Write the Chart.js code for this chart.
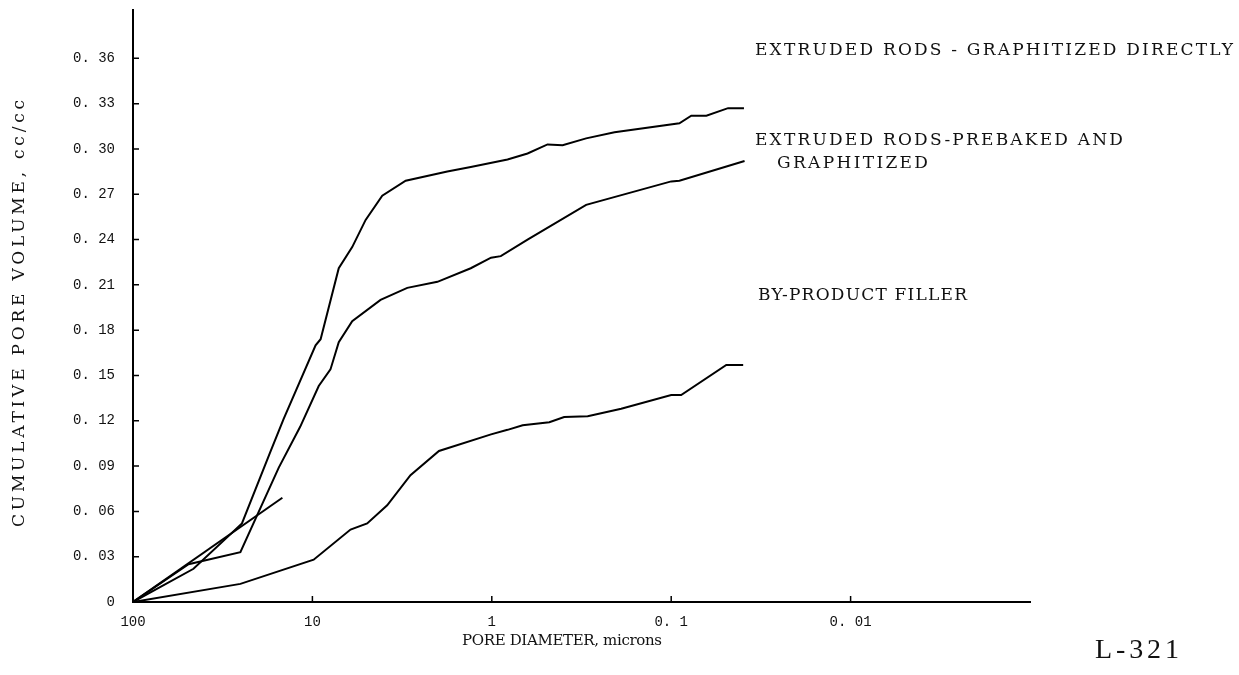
<!DOCTYPE html>
<html>
<head>
<meta charset="utf-8">
<script src="https://cdn.jsdelivr.net/npm/chart.js@4"></script>
<style>
  html, body { margin: 0; padding: 0; background: #fff; }
  canvas { display: block; }
</style>
</head>
<body>
<canvas id="chart" width="1239" height="675"></canvas>
<script>
// Pore diameter (microns) and cumulative pore volume (cc/cc)
const directDiam = [100, 46, 24.7, 17.2, 14.5, 9.6, 9.0, 7.13, 6.0, 5.05, 4.08, 3.02, 1.77, 1.31, 0.817, 0.632, 0.489, 0.403, 0.298, 0.207, 0.09, 0.0773, 0.0637, 0.0482, 0.0393];
const directVol = [0, 0.022, 0.052, 0.099, 0.121, 0.170, 0.174, 0.221, 0.235, 0.253, 0.269, 0.279, 0.285, 0.288, 0.293, 0.297, 0.303, 0.3025, 0.307, 0.311, 0.317, 0.322, 0.322, 0.327, 0.327];

const prebakedDiam = [100, 49, 25.2, 15.4, 11.7, 9.22, 7.93, 7.13, 6.0, 4.17, 2.96, 2.01, 1.31, 1.01, 0.891, 0.632, 0.298, 0.1, 0.09, 0.039];
const prebakedVol = [0, 0.025, 0.033, 0.089, 0.116, 0.143, 0.154, 0.172, 0.186, 0.200, 0.208, 0.212, 0.221, 0.228, 0.229, 0.240, 0.263, 0.2785, 0.279, 0.292];

const fillerDiam = [100, 25.2, 9.84, 6.13, 4.95, 3.83, 2.84, 1.97, 1.01, 0.817, 0.673, 0.478, 0.395, 0.292, 0.19, 0.1, 0.088, 0.0493, 0.0397];
const fillerVol = [0, 0.012, 0.028, 0.048, 0.052, 0.064, 0.084, 0.100, 0.111, 0.114, 0.117, 0.119, 0.1225, 0.123, 0.128, 0.137, 0.137, 0.157, 0.157];

const shortDiam = [100, 14.7];
const shortVol = [0, 0.069];

const xTicks = [100, 10, 1, 0.1, 0.01];
const xTickLabels = ['100', '10', '1', '0. 1', '0. 01'];
const yTicks = [0, 0.03, 0.06, 0.09, 0.12, 0.15, 0.18, 0.21, 0.24, 0.27, 0.30, 0.33, 0.36];
const yTickLabels = ['0', '0. 03', '0. 06', '0. 09', '0. 12', '0. 15', '0. 18', '0. 21', '0. 24', '0. 27', '0. 30', '0. 33', '0. 36'];

const seriesNames = ['EXTRUDED RODS - GRAPHITIZED DIRECTLY', 'EXTRUDED RODS-PREBAKED AND GRAPHITIZED', 'BY-PRODUCT FILLER', ''];

function toPoints(xs, ys) {
    return xs.map((x, i) => ({ x: x, y: ys[i] }));
}

// draw a line of text stretched to a given width
function fitText(ctx, text, x, y, width) {
    ctx.letterSpacing = '0px';
    const w = ctx.measureText(text).width;
    ctx.letterSpacing = ((width - w) / Math.max(text.length - 1, 1)) + 'px';
    ctx.fillText(text, x, y);
    ctx.letterSpacing = '0px';
}

const labelsPlugin = {
    id: 'labels',
    afterDraw(chart) {
        const ctx = chart.ctx;
        const xs = chart.scales.x;
        const ys = chart.scales.y;
        ctx.save();

        // small inward tick marks
        ctx.strokeStyle = '#000';
        ctx.lineWidth = 1.5;
        ctx.beginPath();
        ys.ticks.forEach(t => {
            if (t.value === 0) return;
            const py = ys.getPixelForValue(t.value);
            ctx.moveTo(ys.right, py);
            ctx.lineTo(ys.right + 6, py);
        });
        xs.ticks.forEach(t => {
            if (t.value === 100) return;
            const px = xs.getPixelForValue(t.value);
            ctx.moveTo(px, xs.top);
            ctx.lineTo(px, xs.top - 6);
        });
        ctx.stroke();

        ctx.fillStyle = '#111';
        ctx.textBaseline = 'middle';
        ctx.textAlign = 'left';

        ctx.font = '17px "DejaVu Serif"';
        fitText(ctx, 'EXTRUDED RODS - GRAPHITIZED DIRECTLY', 755, 51, 478);
        fitText(ctx, 'EXTRUDED RODS-PREBAKED AND', 755, 141, 368);
        fitText(ctx, 'GRAPHITIZED', 777, 164, 151);
        fitText(ctx, 'BY-PRODUCT FILLER', 758, 296, 209);

        ctx.font = '15px "DejaVu Serif"';
        fitText(ctx, 'PORE DIAMETER, microns', 462, 641, 200);

        ctx.font = '28px "Liberation Serif"';
        fitText(ctx, 'L-321', 1095, 651, 84);

        ctx.translate(20, 527);
        ctx.rotate(-Math.PI / 2);
        ctx.font = '17px "DejaVu Serif"';
        fitText(ctx, 'CUMULATIVE PORE VOLUME, cc/cc', 0, 0, 427);
        ctx.restore();
    }
};

const lineStyle = { borderColor: '#000', borderWidth: 2, pointRadius: 0, fill: false, tension: 0 };

new Chart(document.getElementById('chart').getContext('2d'), {
    type: 'line',
    data: {
        datasets: [
            Object.assign({ label: seriesNames[0], data: toPoints(directDiam, directVol) }, lineStyle),
            Object.assign({ label: seriesNames[1], data: toPoints(prebakedDiam, prebakedVol) }, lineStyle),
            Object.assign({ label: seriesNames[2], data: toPoints(fillerDiam, fillerVol) }, lineStyle),
            Object.assign({ label: seriesNames[3], data: toPoints(shortDiam, shortVol) }, lineStyle)
        ]
    },
    options: {
        responsive: false,
        animation: false,
        layout: { autoPadding: false, padding: { top: 10, right: 209, left: 0, bottom: 0 } },
        plugins: {
            legend: { display: false },
            tooltip: { enabled: false }
        },
        scales: {
            x: {
                type: 'logarithmic',
                reverse: true,
                min: 0.001,
                max: 100,
                afterBuildTicks: function(scale) {
                    scale.ticks = xTicks.map(v => ({ value: v }));
                },
                afterFit: function(scale) {
                    scale.height = 73;
                    scale.paddingLeft = 0;
                    scale.paddingRight = 0;
                },
                ticks: {
                    autoSkip: false,
                    maxRotation: 0,
                    padding: 12,
                    color: '#111',
                    font: { family: 'Liberation Mono', size: 14 },
                    callback: function(value, index) {
                        return xTickLabels[index];
                    }
                },
                grid: { drawOnChartArea: false, drawTicks: false },
                border: { color: '#000', width: 2 }
            },
            y: {
                min: 0,
                max: 0.392,
                afterBuildTicks: function(scale) {
                    scale.ticks = yTicks.map(v => ({ value: v }));
                },
                afterFit: function(scale) {
                    scale.width = 133;
                    scale.paddingTop = 0;
                    scale.paddingBottom = 0;
                },
                ticks: {
                    autoSkip: false,
                    padding: 18,
                    color: '#111',
                    font: { family: 'Liberation Mono', size: 14 },
                    callback: function(value, index) {
                        return yTickLabels[index];
                    }
                },
                grid: { drawOnChartArea: false, drawTicks: false },
                border: { color: '#000', width: 2 }
            }
        }
    },
    plugins: [labelsPlugin]
});
</script>
</body>
</html>
